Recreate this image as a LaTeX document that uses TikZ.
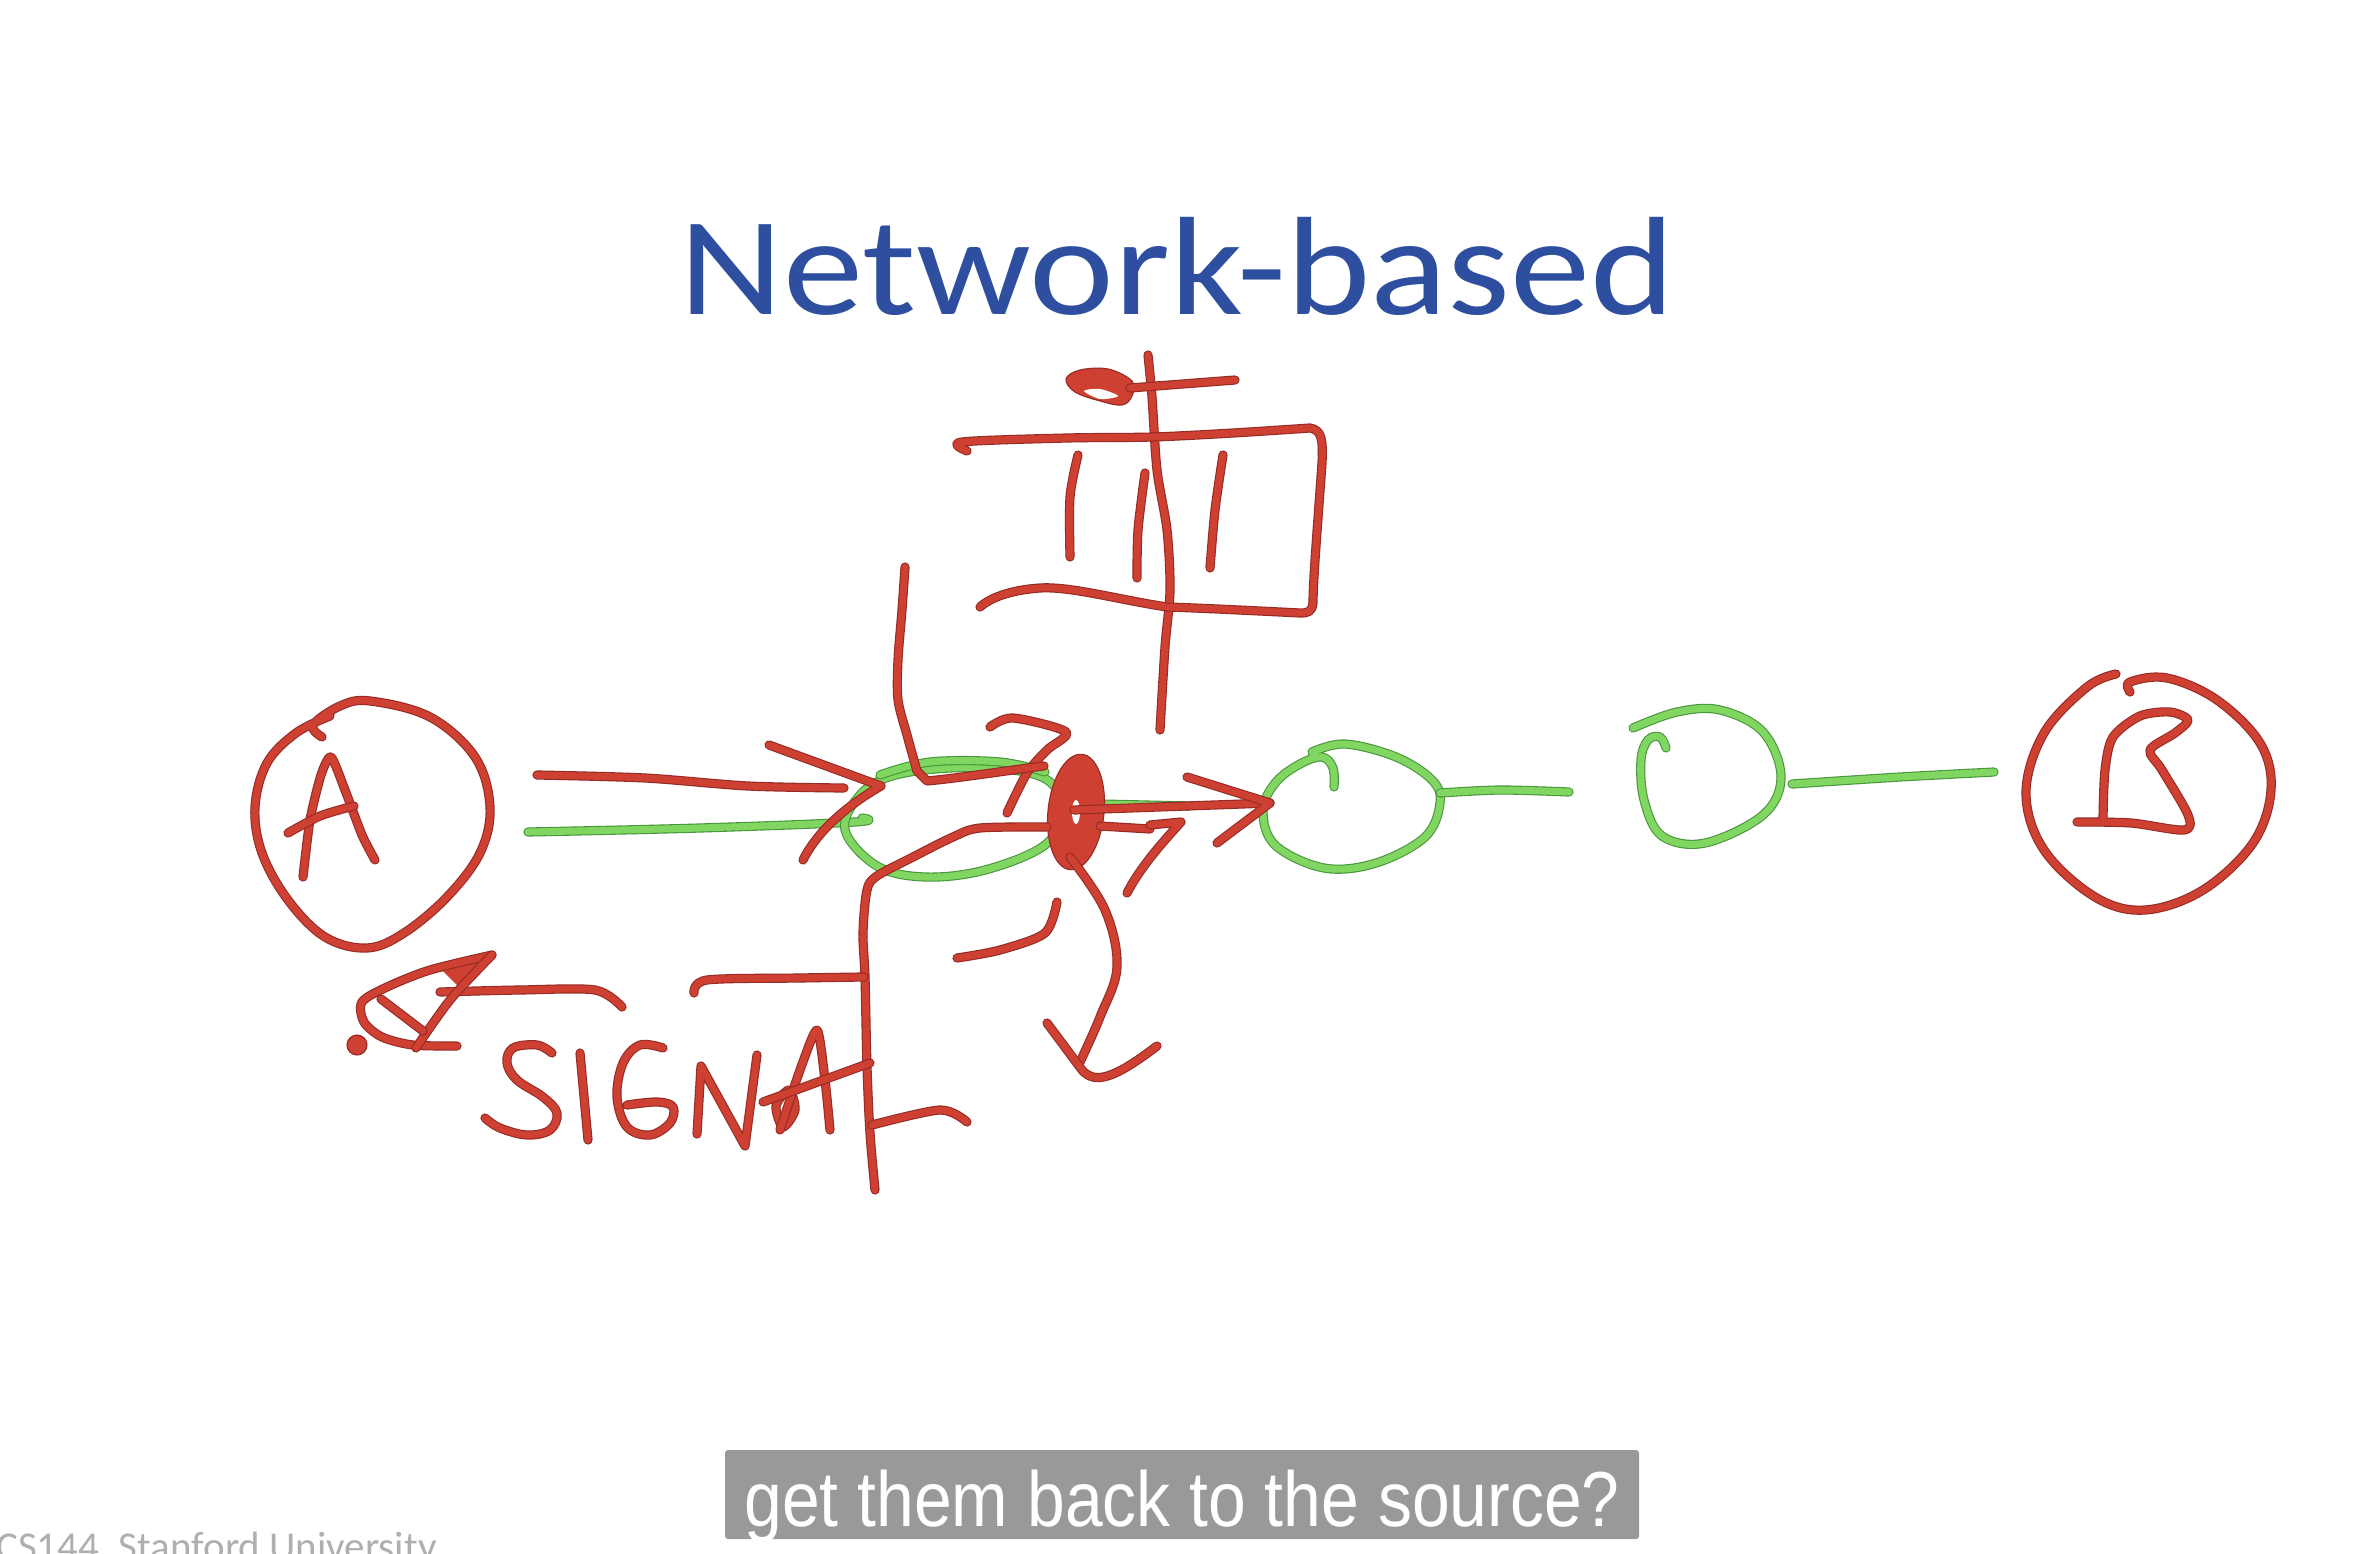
\documentclass[tikz,border=0pt]{standalone}
\usepackage{fontspec}
\usetikzlibrary{shapes.geometric}
\setmainfont{Carlito}
\newfontfamily\capfont{Liberation Sans}
\definecolor{inkred}{RGB}{206,64,50}
\definecolor{inkdark}{RGB}{150,42,36}
\definecolor{leaf}{RGB}{128,214,96}
\definecolor{leafdark}{RGB}{72,150,60}
\definecolor{titleblue}{RGB}{46,79,160}
\definecolor{capgray}{RGB}{153,153,153}
\definecolor{footgray}{RGB}{175,175,175}
\begin{document}
\begin{tikzpicture}[x=1pt,y=-1pt,
  redpen/.style={draw=inkdark, double=inkred, double distance=7pt, line width=1.1pt, line cap=round, line join=round},
  greenpen/.style={draw=leafdark, double=leaf, double distance=7pt, line width=1.1pt, line cap=round, line join=round},
  redblob/.style={fill=inkred, draw=inkdark, line width=1.1pt, line join=round}]
\fill[white] (0,0) rectangle (2364,1554);
\useasboundingbox (0,0) rectangle (2364,1554);

% title
\node[anchor=base, text=titleblue, inner sep=0pt] (title) at (1177,315)
  {\scalebox{1.147}[1]{\fontsize{140}{168}\selectfont Network-based}};

% ---------- green path: A -> routers -> B ----------
\draw[greenpen] plot[smooth, tension=0.6] coordinates {(528,832) (700,828) (855,822) (862,818)};
% first router (ellipse)
\draw[greenpen] plot[smooth cycle, tension=0.6] coordinates {(845,830) (860,795) (892,776) (950,768) (1013,770) (1050,782) (1062,810) (1045,845) (985,870) (925,877) (877,866)};
\draw[greenpen] plot[smooth, tension=0.6] coordinates {(880,775) (930,762) (1000,762) (1045,772)};
\draw[greenpen] (1100,804) -- (1190,806);
% second router
\coordinate (r2) at (1350,806);
\draw[greenpen] plot[smooth, tension=0.6] coordinates {(1334,787) (1333,768) (1322,757) (1300,764) (1276,782) (1263,810) (1275,845) (1324,868) (1376,863) (1425,837) (1440,803) (1432,780) (1396,757) (1345,744) (1312,752)};
\draw[greenpen] plot[smooth] coordinates {(1440,793) (1500,790) (1569,792)};
% third router
\coordinate (r3) at (1707,777);
\draw[greenpen] plot[smooth, tension=0.6] coordinates {(1633,728) (1677,712) (1720,710) (1763,732) (1781,777) (1763,815) (1705,843) (1662,836) (1644,800) (1641,760) (1648,740) (1660,737) (1666,748)};
\draw[greenpen] plot[smooth] coordinates {(1792,784) (1900,777) (1994,772)};

% ---------- host A ----------
\coordinate (hostA) at (372,825);
\draw[redpen] plot[smooth, tension=0.6] coordinates {(322,737) (313,725) (340,706) (370,701) (430,717) (475,757) (490,807) (480,853) (447,897) (404,933) (367,948) (325,937) (288,900) (262,853) (255,807) (267,763) (296,733) (330,716)};
\draw[redpen] plot[smooth, tension=0.4] coordinates {(303,877) (310,820) (321,775) (331,757) (345,790) (362,835) (375,860)};
\draw[redpen] plot[smooth] coordinates {(288,833) (320,816) (354,806)};

% ---------- host B ----------
\coordinate (hostB) at (2150,793);
\draw[redpen] plot[smooth, tension=0.6] coordinates {(2130,692) (2130,682) (2167,678) (2217,700) (2260,743) (2271,790) (2253,843) (2203,890) (2145,910) (2095,897) (2044,850) (2026,793) (2044,733) (2087,687) (2116,674)};
\draw[redpen] plot[smooth, tension=0.5] coordinates {(2077,822) (2131,823) (2184,830) (2188,815) (2162,770) (2150,750) (2175,733) (2188,720) (2170,712) (2140,716) (2113,737) (2105,770) (2103,818)};

% ---------- arrow A -> first router ----------
\draw[redpen] plot[smooth] coordinates {(537,775) (645,778) (748,786) (844,788)};
\draw[redpen] (769,745) -- (881,786) .. controls (848,805) and (818,830) .. (803,860);

% ---------- marked router (filled disc) ----------
\node[redblob, ellipse, minimum width=56pt, minimum height=116pt, inner sep=0pt, rotate=-6] (mark) at (1076,812) {};
\fill[white] (1076,812) ellipse (4pt and 12pt);
\draw[redpen] (1074,810) -- (1270,803);
\draw[redpen] (1187,777) -- (1270,803) -- (1217,843);
\draw[redpen] (1100,826) -- (1150,829);
\draw[redpen] (1150,825) -- (1181,822) .. controls (1160,845) and (1140,868) .. (1127,893);

% strokes meeting at the marked router
\draw[redpen] plot[smooth, tension=0.5] coordinates {(990,727) (1013,718) (1066,732) (1047,750) (1027,773) (1007,813)};
\draw[redpen] plot[smooth, tension=0.5] coordinates {(905,567) (902,610) (898,660) (898,700) (907,735) (917,771)} -- (927,781) .. controls (960,778) and (1010,770) .. (1044,766);
\draw[redpen] plot[smooth, tension=0.5] coordinates {(1047,827) (980,828) (953,837) (913,857) (877,876) (867,890) (863,933) (865,977) (867,1067) (870,1133) (875,1190)};
\draw[redpen] plot[smooth] coordinates {(1057,902) (1045,933) (1000,950) (957,958)};
% downward curved arrow
\draw[redpen] plot[smooth, tension=0.6] coordinates {(1070,857) (1105,910) (1117,967) (1100,1017) (1080,1062)};
\draw[redpen] (1047,1023) -- (1082,1070) .. controls (1095,1085) and (1115,1078) .. (1157,1046);

% ---------- the flag structure on top ----------
\draw[redpen] plot[smooth, tension=0.5] coordinates {(1148,355) (1152,397) (1157,470) (1167,530) (1170,590) (1165,647) (1160,730)};
\draw[redpen] plot[smooth, tension=0.5] coordinates {(967,451) (962,442) (1067,438) (1153,437) (1233,433) (1310,428)} .. controls (1322,430) and (1323,440) .. (1322,463)
   .. controls (1318,520) and (1313,580) .. (1313,603) .. controls (1312,612) and (1308,613) .. (1300,613)
   .. controls (1260,611) and (1200,608) .. (1167,607) .. controls (1120,600) and (1070,586) .. (1040,588) .. controls (1010,590) and (990,598) .. (980,607);
\draw[redpen] plot[smooth] coordinates {(1078,455) (1070,497) (1070,557)};
\draw[redpen] plot[smooth] coordinates {(1145,473) (1138,530) (1137,578)};
\draw[redpen] plot[smooth] coordinates {(1223,455) (1215,510) (1210,568)};
\draw[redblob] plot[smooth cycle, tension=0.6] coordinates {(1132,381) (1108,369) (1080,370) (1066,379) (1075,392) (1100,401) (1122,405) (1132,396)};
\fill[white] plot[smooth cycle] coordinates {(1084,391) (1100,389) (1118,396) (1100,399)};
\draw[redpen] (1130,388) -- (1235,380);

% ---------- signal arrow back towards A ----------
\draw[redpen] plot[smooth] coordinates {(440,992) (520,990) (595,990) (622,1007)};
\fill[inkred] (492,955) -- (440,968) -- (462,990) -- cycle;
\draw[redpen] plot[smooth, tension=0.5] coordinates {(492,955) (430,970) (387,987) (362,1002) (364,1022) (382,1037) (413,1045) (457,1046)};
\draw[redpen] plot[smooth] coordinates {(492,955) (450,1000) (416,1048)};
\draw[redpen] (381,999) -- (423,1031);
\filldraw[fill=inkred, draw=inkdark, line width=1.1pt] (357,1045) circle (10pt);
\draw[redpen] plot[smooth] coordinates {(694,993) (707,980) (800,978) (864,977)};

% ---------- SIGNAL, written by hand ----------
\draw[redpen] plot[smooth, tension=0.6] coordinates {(552,1053) (537,1045) (513,1048) (507,1063) (517,1080) (543,1097) (557,1113) (550,1130) (527,1135) (500,1128) (485,1118)};
\draw[redpen] (580,1053) -- (588,1140);
\draw[redpen] plot[smooth, tension=0.6] coordinates {(663,1048) (640,1045) (623,1063) (617,1097) (627,1127) (650,1135) (670,1123) (673,1107) (657,1102) (627,1105)};
\draw[redpen] (697,1134) -- (701,1066) -- (745,1146) -- (757,1055);
\draw[redpen] plot[smooth cycle] coordinates {(783,1127) (776,1106) (789,1090) (795,1110)};
\draw[redpen] plot[smooth, tension=0.4] coordinates {(780,1130) (800,1070) (817,1030) (825,1080) (830,1130)};
\draw[redpen] (763,1102) -- (870,1063);
\draw[redpen] plot[smooth] coordinates {(872,1125) (940,1110) (967,1122)};

% ---------- caption and footer ----------
\fill[capgray, rounded corners=3pt] (725,1450) rectangle (1639,1539);
\node[anchor=base, text=white, inner sep=0pt] (caption) at (1182,1526)
  {\scalebox{0.87}[1]{\capfont\fontsize{78}{90}\selectfont get them back to the source?}};
\node[anchor=base west, text=footgray, inner sep=0pt] (footer) at (-4,1560)
  {\fontsize{41}{46}\selectfont CS144, Stanford University};
\end{tikzpicture}
\end{document}
